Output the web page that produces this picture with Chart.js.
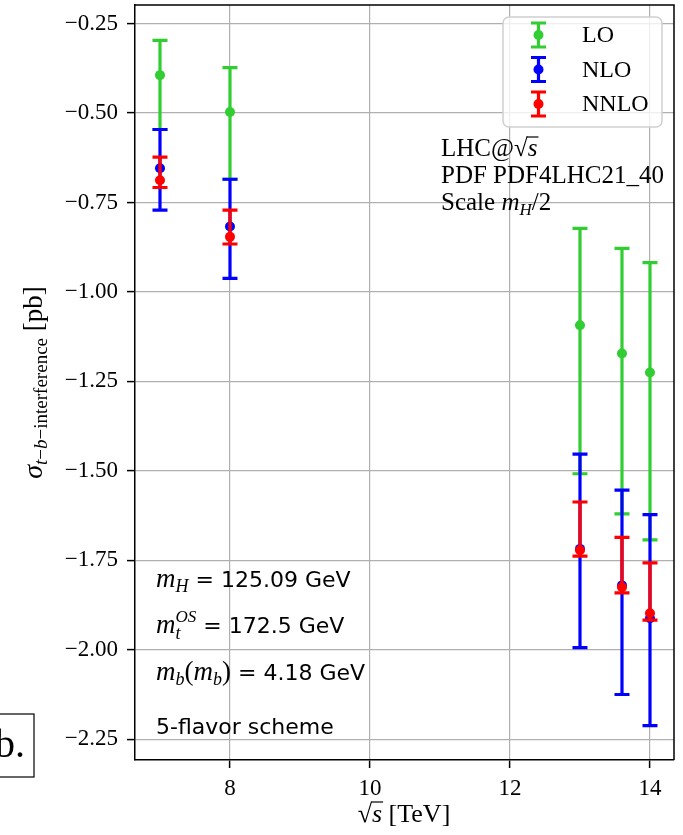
<!DOCTYPE html>
<html>
<head>
<meta charset="utf-8">
<script src="https://cdn.jsdelivr.net/npm/chart.js@4.4.1/dist/chart.umd.min.js"></script>
<style>
body{margin:0;background:#fff;}
</style>
</head>
<body>
<canvas id="chart" width="683" height="835"></canvas>
<script>
// collision energy sqrt(s) in TeV
var energies=[7,8,13,13.6,14];

// central values and error band ends, in pb
var loVal=[-0.394,-0.497,-1.093,-1.172,-1.225];
var loHigh=[-0.297,-0.373,-0.822,-0.878,-0.918];
var loLow=[-0.546,-0.685,-1.508,-1.620,-1.693];

var nloVal=[-0.654,-0.817,-1.718,-1.820,-1.912];
var nloHigh=[-0.546,-0.685,-1.453,-1.554,-1.622];
var nloLow=[-0.771,-0.962,-1.994,-2.125,-2.212];

var nnloVal=[-0.688,-0.846,-1.722,-1.825,-1.898];
var nnloHigh=[-0.623,-0.771,-1.587,-1.686,-1.757];
var nnloLow=[-0.708,-0.866,-1.738,-1.841,-1.917];

var xTicks=[8,10,12,14];
var yTicks=[-0.25,-0.5,-0.75,-1.0,-1.25,-1.5,-1.75,-2.0,-2.25];

var seriesNames=['LO','NLO','NNLO'];
var seriesColors=['#32cd32','#0000ff','#ff0000'];

var SERIF='"Liberation Serif", "DejaVu Serif", serif';
var SANS='"DejaVu Sans", "Liberation Sans", sans-serif';
function font(size,italic,fam){ return (italic?'italic ':'')+size+'px '+(fam||SERIF); }

function points(vals){
    return energies.map(function(e,i){ return {x:e,y:vals[i]}; });
}

var bands=[[loLow,loHigh],[nloLow,nloHigh],[nnloLow,nnloHigh]];
var datasets=[loVal,nloVal,nnloVal].map(function(v,k){
    return {
        label:seriesNames[k],
        data:points(v),
        backgroundColor:seriesColors[k],
        borderColor:seriesColors[k],
        pointRadius:5,
        pointBorderWidth:0,
        showLine:false,
        order:3-k,   // LO at the bottom, NNLO on top
        errLow:bands[k][0],
        errHigh:bands[k][1]
    };
});

// draws a row of text pieces (italic math, sub/superscripts) left to right
function drawRuns(ctx,list,x,y){
    list.forEach(function(r){
        ctx.font=r.f;
        ctx.fillText(r.t,x,y+(r.dy||0));
        var w=ctx.measureText(r.t).width;
        if(r.bar){
            ctx.save();
            ctx.lineWidth=1.2;
            ctx.beginPath();
            ctx.moveTo(x-1,y-r.bar);ctx.lineTo(x+w+1,y-r.bar);
            ctx.stroke();
            ctx.restore();
        }
        if(!r.stay) x+=w;
    });
    return x;
}
function runsWidth(ctx,list){
    var w=0;
    list.forEach(function(r){ ctx.font=r.f; if(!r.stay) w+=ctx.measureText(r.t).width; });
    return w;
}

// vertical error bars with caps, drawn under each series' markers
var errorBars={
    id:'errorBars',
    beforeDatasetDraw:function(chart,args){
        var ds=chart.data.datasets[args.index];
        var xs=chart.scales.x, ys=chart.scales.y, ctx=chart.ctx;
        ctx.save();
        ctx.strokeStyle=ds.borderColor;
        ctx.lineWidth=3.2;
        ds.data.forEach(function(p,i){
            var x=xs.getPixelForValue(p.x);
            var y1=ys.getPixelForValue(ds.errLow[i]);
            var y2=ys.getPixelForValue(ds.errHigh[i]);
            ctx.beginPath();
            ctx.moveTo(x,y1);ctx.lineTo(x,y2);
            ctx.moveTo(x-7.5,y1);ctx.lineTo(x+7.5,y1);
            ctx.moveTo(x-7.5,y2);ctx.lineTo(x+7.5,y2);
            ctx.stroke();
        });
        ctx.restore();
    }
};

var decorations={
    id:'decorations',
    afterDraw:function(chart){
        var ctx=chart.ctx, a=chart.chartArea;
        ctx.save();
        ctx.fillStyle='#000';
        ctx.strokeStyle='#000';
        ctx.textAlign='left';
        ctx.textBaseline='alphabetic';

        // top and right spines
        ctx.lineWidth=1.5;
        ctx.beginPath();
        ctx.moveTo(a.left,a.top);ctx.lineTo(a.right,a.top);ctx.lineTo(a.right,a.bottom);
        ctx.stroke();

        // run info, upper right
        drawRuns(ctx,[{t:'LHC@',f:font(25)},{t:'\u221A',f:font(25)},{t:'s',f:font(25,true),bar:19}],441,156);
        drawRuns(ctx,[{t:'PDF PDF4LHC21_40',f:font(25)}],441,183);
        drawRuns(ctx,[{t:'Scale ',f:font(25)},{t:'m',f:font(25,true)},{t:'H',f:font(17,true),dy:5},{t:'/2',f:font(25)}],441,210);

        // mass settings, lower left
        var sans=font(22,false,SANS);
        drawRuns(ctx,[{t:'m',f:font(27,true)},{t:'H',f:font(18,true),dy:5},{t:' = 125.09 GeV',f:sans}],156,587);
        drawRuns(ctx,[{t:'m',f:font(27,true)},{t:'t',f:font(18,true),dy:6,stay:true},{t:'OS',f:font(17,true),dy:-11},{t:' = 172.5 GeV',f:sans}],156,633);
        drawRuns(ctx,[{t:'m',f:font(27,true)},{t:'b',f:font(18,true),dy:5},{t:'(',f:font(27)},{t:'m',f:font(27,true)},{t:'b',f:font(18,true),dy:5},{t:')',f:font(27)},{t:' = 4.18 GeV',f:sans}],156,680);
        drawRuns(ctx,[{t:'5-flavor scheme',f:sans}],156,734);

        // x axis title
        var xt=[{t:'\u221A',f:font(26)},{t:'s',f:font(26,true),bar:20},{t:' [TeV]',f:font(26)}];
        drawRuns(ctx,xt,404-runsWidth(ctx,xt)/2,822);

        // y axis title
        var yt=[{t:'\u03C3',f:font(28,true)},{t:'t',f:font(19,true),dy:5},{t:'\u2212',f:font(19),dy:5},{t:'b',f:font(19,true),dy:5},
                {t:'\u2212interference',f:font(19),dy:5},{t:' [pb]',f:font(27)}];
        ctx.save();
        ctx.translate(42,(a.top+a.bottom)/2);
        ctx.rotate(-Math.PI/2);
        drawRuns(ctx,yt,-runsWidth(ctx,yt)/2,0);
        ctx.restore();

        // panel tag
        ctx.lineWidth=1.2;
        ctx.strokeRect(-2,714,36,63);
        ctx.font=font(40);
        ctx.textAlign='right';
        ctx.fillText('b.',25,757);
        ctx.textAlign='left';

        // legend
        var lx=503, ly=17, lw=159, lh=110;
        ctx.beginPath();
        ctx.roundRect(lx,ly,lw,lh,6);
        ctx.fillStyle='rgba(255,255,255,0.8)';
        ctx.fill();
        ctx.strokeStyle='#d0d0d0';
        ctx.lineWidth=1.5;
        ctx.stroke();
        chart.data.datasets.forEach(function(ds,k){
            var cy=35+k*34.5, cx=538.5;
            ctx.strokeStyle=ds.borderColor;
            ctx.fillStyle=ds.borderColor;
            ctx.lineWidth=3.2;
            ctx.beginPath();
            ctx.moveTo(cx,cy-12);ctx.lineTo(cx,cy+12);
            ctx.moveTo(cx-7.5,cy-12);ctx.lineTo(cx+7.5,cy-12);
            ctx.moveTo(cx-7.5,cy+12);ctx.lineTo(cx+7.5,cy+12);
            ctx.stroke();
            ctx.beginPath();
            ctx.arc(cx,cy,5,0,Math.PI*2);
            ctx.fill();
            ctx.fillStyle='#000';
            ctx.font=font(24);
            ctx.textBaseline='middle';
            ctx.fillText(ds.label,582,cy+1);
            ctx.textBaseline='alphabetic';
        });
        ctx.restore();
    }
};

var gridStyle={color:'#b0b0b0',lineWidth:1.2,tickColor:'#000',tickLength:8,tickWidth:1.5};

new Chart(document.getElementById('chart'),{
    type:'scatter',
    data:{datasets:datasets},
    options:{
        responsive:false,
        animation:false,
        layout:{padding:{top:4,right:9,left:0,bottom:0}},
        plugins:{legend:{display:false},tooltip:{enabled:false}},
        scales:{
            x:{
                type:'linear',min:6.643,max:14.343,
                afterBuildTicks:function(s){ s.ticks=xTicks.map(function(v){return {value:v};}); },
                afterFit:function(s){ s.height=75; s.paddingLeft=0; s.paddingRight=0; },
                grid:gridStyle,
                border:{color:'#000',width:1.5},
                ticks:{font:{family:SERIF,size:23},color:'#000',padding:7,maxRotation:0,
                    callback:function(v){ return String(v); }}
            },
            y:{
                type:'linear',min:-2.308,max:-0.198,
                afterBuildTicks:function(s){ s.ticks=yTicks.map(function(v){return {value:v};}); },
                afterFit:function(s){ s.width=135; s.paddingTop=0; s.paddingBottom=0; },
                grid:gridStyle,
                border:{color:'#000',width:1.5},
                ticks:{font:{family:SERIF,size:23},color:'#000',padding:9,
                    callback:function(v){ return '\u2212'+Math.abs(v).toFixed(2); }}
            }
        }
    },
    plugins:[errorBars,decorations]
});
</script>
</body>
</html>
